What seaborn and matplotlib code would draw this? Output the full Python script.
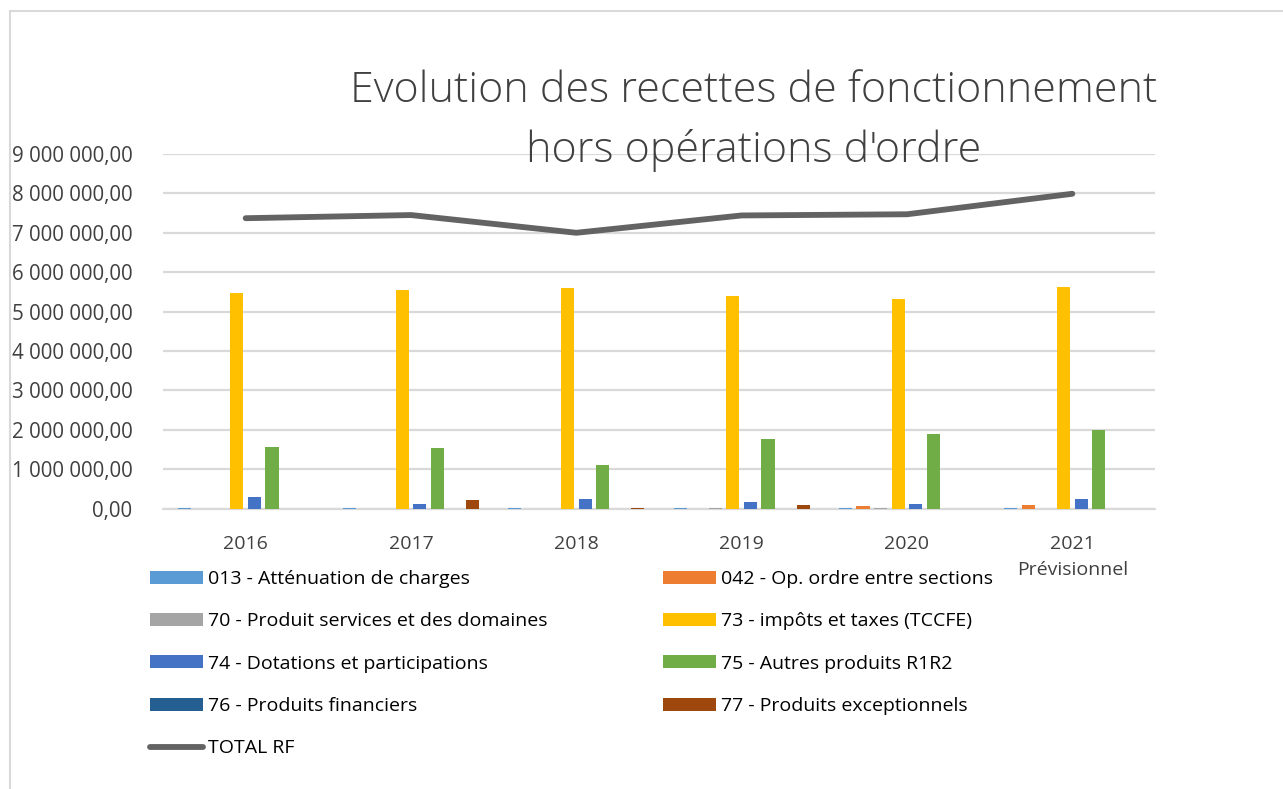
import numpy as np
import pandas as pd
import matplotlib
matplotlib.use("Agg")
import matplotlib.pyplot as plt
from matplotlib.patches import Patch
from matplotlib.lines import Line2D
from matplotlib.ticker import FuncFormatter, MultipleLocator
import seaborn as sns

# ---- data -------------------------------------------------------------
years = ["2016", "2017", "2018", "2019", "2020", "2021\nPrévisionnel"]

postes = [
    "013 - Atténuation de charges",
    "042 - Op. ordre entre sections",
    "70 - Produit services et des domaines",
    "73 - impôts et taxes (TCCFE)",
    "74 - Dotations et participations",
    "75 - Autres produits R1R2",
    "76 - Produits financiers",
    "77 - Produits exceptionnels",
]

v013 = [22000, 20000, 21000, 20000, 22000, 20000]
v042 = [0, 0, 0, 0, 70000, 90000]
v70 = [0, 0, 0, 8000, 10000, 0]
v73 = [5460000, 5550000, 5590000, 5390000, 5330000, 5630000]
v74 = [290000, 120000, 250000, 170000, 120000, 240000]
v75 = [1570000, 1540000, 1110000, 1770000, 1890000, 2000000]
v76 = [0, 0, 0, 0, 0, 0]
v77 = [0, 220000, 10000, 90000, 0, 0]

total_rf = [7370000, 7450000, 7000000, 7440000, 7470000, 7990000]
total_label = "TOTAL RF"

colors = ["#5B9BD5", "#ED7D31", "#A5A5A5", "#FFC000",
          "#4472C4", "#70AD47", "#255E91", "#9E480E"]
line_color = "#636363"
grid_color = "#D9D9D9"
text_color = "#404040"

# ---- long table --------------------------------------------------------
series = [v013, v042, v70, v73, v74, v75, v76, v77]
rows = []
for name, vals in zip(postes, series):
    for y, v in zip(years, vals):
        rows.append({"Année": y, "Poste": name, "Montant": v})
df = pd.DataFrame(rows)

# ---- figure ------------------------------------------------------------
sns.set_theme(style="white")
plt.rcParams["font.family"] = ["Open Sans", "DejaVu Sans"]

W, H = 1283, 789
fig = plt.figure(figsize=(W / 100, H / 100), dpi=100)
ax = fig.add_axes([163 / W, 1 - 508.5 / H, (1155 - 163) / W, (508.5 - 154) / H])

sns.barplot(data=df, x="Année", y="Montant", hue="Poste", hue_order=postes,
            order=years, palette=colors, width=0.85, gap=0.25,
            saturation=1, edgecolor="none", legend=False, ax=ax)

sns.lineplot(x=np.arange(len(years)), y=total_rf, color=line_color,
             linewidth=4.2, solid_capstyle="round", ax=ax, legend=False)

ax.set_ylim(0, 9_000_000)
ax.set_xlim(-0.5, len(years) - 0.5)
ax.yaxis.set_major_locator(MultipleLocator(1_000_000))


def fr_format(v, _pos):
    s = f"{v:,.2f}"
    return s.replace(",", " ").replace(".", ",")


ax.yaxis.set_major_formatter(FuncFormatter(fr_format))
ax.set_axisbelow(True)
ax.grid(axis="y", color=grid_color, linewidth=1.6)
ax.grid(axis="x", visible=False)
ax.axhline(0, color=grid_color, linewidth=1.6, zorder=0.5, clip_on=False)
for s in ax.spines.values():
    s.set_visible(False)
ax.set_xlabel("")
ax.set_ylabel("")
ax.tick_params(axis="both", length=0, labelcolor=text_color)
ax.tick_params(axis="y", pad=22, labelsize=14.8)
ax.tick_params(axis="x", pad=19, labelsize=14)
for lbl in ax.get_xticklabels():
    lbl.set_linespacing(1.6)
    lbl.set_verticalalignment("top")

# ---- title -------------------------------------------------------------
fig.text(754 / W, 1 - 91 / H, "Evolution des recettes de fonctionnement",
         ha="center", va="center", fontsize=31, color=text_color,
         fontweight="light")
fig.text(754 / W, 1 - 151 / H, "hors opérations d'ordre",
         ha="center", va="center", fontsize=31, color=text_color,
         fontweight="light")

# ---- legend (row-wise order, two columns) ------------------------------
patches = [Patch(facecolor=c, edgecolor="none", label=p)
           for c, p in zip(colors, postes)]
tline = Line2D([], [], color=line_color, linewidth=4.2,
               solid_capstyle="round", label=total_label)
left_col = [patches[0], patches[2], patches[4], patches[6], tline]
right_col = [patches[1], patches[3], patches[5], patches[7]]
handles = left_col + right_col
leg = fig.legend(handles=handles, labels=[h.get_label() for h in handles],
                 ncol=2, loc="upper left",
                 bbox_to_anchor=(150 / W, 1 - 570 / H),
                 frameon=False, fontsize=14, labelcolor="#000000",
                 handlelength=2.75, handleheight=0.65, handletextpad=0.25,
                 labelspacing=1.25, columnspacing=5.9, borderpad=0,
                 borderaxespad=0)

# ---- chart border ------------------------------------------------------
fig.add_artist(Line2D([10 / W, 1], [1 - 11 / H, 1 - 11 / H],
                      color=grid_color, linewidth=1.5))
fig.add_artist(Line2D([10 / W, 10 / W], [0, 1 - 11 / H],
                      color=grid_color, linewidth=1.5))

fig.savefig("out.png", dpi=100)
